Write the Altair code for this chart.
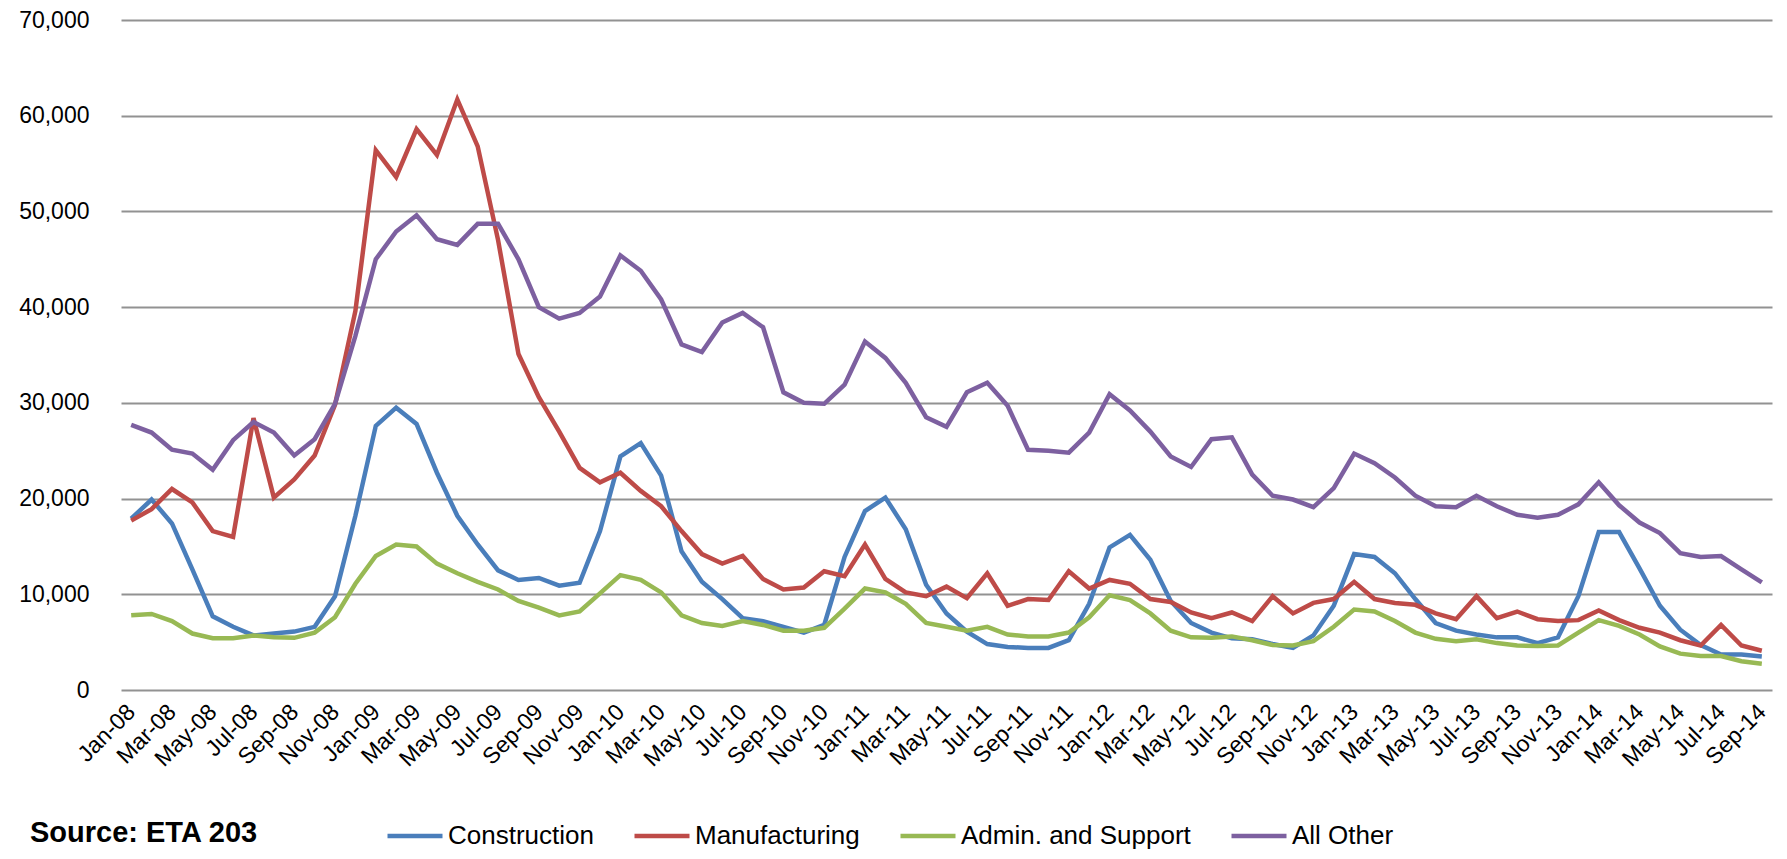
import altair as alt
import pandas as pd

month_names = ["Jan", "Feb", "Mar", "Apr", "May", "Jun", "Jul", "Aug", "Sep", "Oct", "Nov", "Dec"]
months = [f"{m}-{y:02d}" for y in range(8, 15) for m in month_names][:81]
label_months = months[::2]

series_names = ["Construction", "Manufacturing", "Admin. and Support", "All Other"]
series_colors = ["#4A7EBB", "#BE4B48", "#98B954", "#7D60A0"]

# values in thousands
construction = [
    17.9, 19.9, 17.4, 12.6, 7.7, 6.6, 5.7, 5.9, 6.1, 6.6, 9.8, 18.2,
    27.6, 29.5, 27.8, 22.7, 18.2, 15.2, 12.5, 11.5, 11.7, 10.9, 11.2, 16.6,
    24.4, 25.8, 22.4, 14.5, 11.3, 9.5, 7.5, 7.2, 6.6, 6.0, 6.8, 13.9,
    18.7, 20.1, 16.8, 11.0, 8.0, 6.1, 4.8, 4.5, 4.4, 4.4, 5.2, 9.0,
    14.9, 16.2, 13.6, 9.3, 7.0, 6.0, 5.4, 5.3, 4.8, 4.4, 5.7, 8.8,
    14.2, 13.9, 12.2, 9.5, 7.0, 6.2, 5.8, 5.5, 5.5, 4.9, 5.5, 9.8,
    16.5, 16.5, 12.7, 8.8, 6.3, 4.7, 3.7, 3.7, 3.5,
]
manufacturing = [
    17.7, 18.9, 21.0, 19.6, 16.6, 16.0, 28.4, 20.1, 22.0, 24.5, 29.8, 39.6,
    56.4, 53.6, 58.6, 55.9, 61.7, 56.8, 47.0, 35.1, 30.6, 27.0, 23.2, 21.7,
    22.7, 20.8, 19.2, 16.6, 14.2, 13.2, 14.0, 11.6, 10.5, 10.7, 12.4, 11.9,
    15.2, 11.6, 10.2, 9.8, 10.8, 9.6, 12.2, 8.8, 9.5, 9.4, 12.4, 10.6,
    11.5, 11.1, 9.5, 9.2, 8.1, 7.5, 8.1, 7.2, 9.8, 8.0, 9.1, 9.5,
    11.3, 9.5, 9.1, 8.9, 8.0, 7.4, 9.8, 7.5, 8.2, 7.4, 7.2, 7.3,
    8.3, 7.3, 6.5, 6.0, 5.2, 4.65, 6.8, 4.65, 4.1,
]
admin_support = [
    7.8, 7.95, 7.2, 5.9, 5.4, 5.4, 5.7, 5.5, 5.45, 6.0, 7.6, 11.1,
    14.0, 15.2, 15.0, 13.2, 12.2, 11.3, 10.5, 9.3, 8.6, 7.8, 8.2, 10.1,
    12.0, 11.5, 10.2, 7.8, 7.0, 6.7, 7.2, 6.8, 6.2, 6.2, 6.5, 8.5,
    10.6, 10.2, 9.0, 7.0, 6.6, 6.2, 6.6, 5.8, 5.6, 5.6, 6.0, 7.6,
    9.9, 9.4, 8.0, 6.2, 5.5, 5.45, 5.6, 5.2, 4.7, 4.65, 5.1, 6.6,
    8.4, 8.2, 7.2, 6.0, 5.35, 5.1, 5.3, 4.9, 4.65, 4.6, 4.65, 6.0,
    7.3, 6.7, 5.8, 4.55, 3.8, 3.55, 3.55, 3.0, 2.75,
]
all_other = [
    27.7, 26.9, 25.1, 24.7, 23.0, 26.1, 28.0, 26.9, 24.5, 26.2, 29.9, 37.0,
    45.0, 47.9, 49.6, 47.1, 46.5, 48.7, 48.7, 45.0, 40.0, 38.8, 39.4, 41.1,
    45.4, 43.8, 40.8, 36.1, 35.3, 38.4, 39.4, 37.9, 31.1, 30.0, 29.9, 31.9,
    36.4, 34.7, 32.1, 28.5, 27.5, 31.1, 32.1, 29.7, 25.1, 25.0, 24.8, 26.9,
    30.9, 29.2, 27.0, 24.4, 23.3, 26.2, 26.4, 22.5, 20.3, 19.9, 19.1, 21.1,
    24.7, 23.7, 22.2, 20.3, 19.2, 19.1, 20.3, 19.2, 18.3, 18.0, 18.3, 19.4,
    21.7, 19.3, 17.5, 16.4, 14.3, 13.9, 14.0, 12.6, 11.25,
]

y_ticks = [0, 10000, 20000, 30000, 40000, 50000, 60000, 70000]
source_text = ["Source: ETA 203"]

rows = []
for name, vals in zip(series_names, [construction, manufacturing, admin_support, all_other]):
    for i, (m, v) in enumerate(zip(months, vals)):
        rows.append({"month": m, "series": name, "value": v * 1000, "idx": i})
df = pd.DataFrame(rows)

lines = alt.Chart(df).mark_line(strokeWidth=4.5).encode(
    x=alt.X(
        "month:O",
        sort=months,
        scale=alt.Scale(type="point", padding=0.5),
        axis=alt.Axis(
            values=label_months,
            labelAngle=-45,
            labelAlign="right",
            labelBaseline="middle",
            labelFontSize=23,
            labelPadding=18,
            labelColor="#000000",
            labelOverlap=False,
            ticks=False,
            domain=False,
            grid=False,
            title=None,
        ),
    ),
    y=alt.Y(
        "value:Q",
        scale=alt.Scale(domain=[0, 70000], nice=False),
        axis=alt.Axis(
            values=y_ticks,
            format=",d",
            labelFontSize=23,
            labelPadding=32,
            labelColor="#000000",
            ticks=False,
            domain=False,
            grid=True,
            gridColor="#929292",
            gridWidth=2,
            title=None,
        ),
    ),
    color=alt.Color(
        "series:N",
        sort=series_names,
        scale=alt.Scale(domain=series_names, range=series_colors),
        legend=alt.Legend(
            orient="none",
            legendX=264,
            legendY=786,
            direction="horizontal",
            columns=4,
            title=None,
            symbolType="stroke",
            symbolSize=3025,
            symbolStrokeWidth=4.5,
            labelFontSize=26,
            labelOffset=3,
            labelColor="#000000",
            labelLimit=400,
            columnPadding=31,
        ),
    ),
    detail="series:N",
    order="idx:Q",
)

src = alt.Chart(pd.DataFrame({"t": source_text})).mark_text(
    align="left", baseline="alphabetic", fontSize=29, fontWeight="bold", color="#000000"
).encode(text="t:N", x=alt.value(-91), y=alt.value(822))

chart = alt.layer(lines, src).properties(
    width=1651,
    height=670,
    autosize=alt.AutoSizeParams(type="none"),
    padding={"left": 113, "top": 12, "right": 7, "bottom": 160},
).configure(font="Liberation Sans").configure_view(stroke=None)

chart.save("out.html", embed_options={"renderer": "svg", "actions": False})
